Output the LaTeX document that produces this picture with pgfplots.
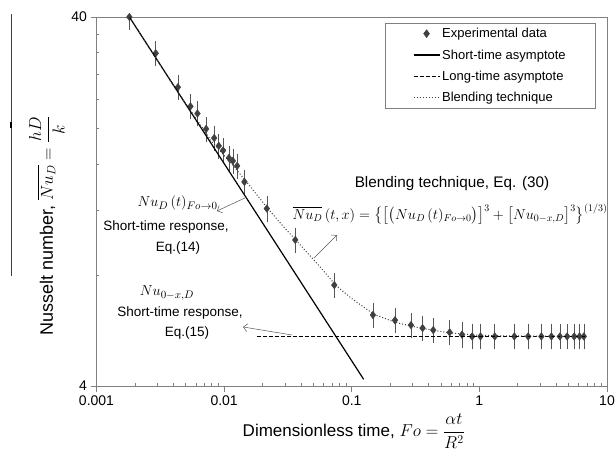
\documentclass[border=0pt]{standalone}
\usepackage{fontspec}
\setmainfont{Liberation Sans}
\usepackage{amsmath}
\usepackage{pgfplots}
\pgfplotsset{compat=1.18}
\usetikzlibrary{arrows.meta}

\definecolor{mk}{HTML}{404040}
\definecolor{ax}{HTML}{808080}
\definecolor{eb}{HTML}{555555}

\begin{document}
\begin{tikzpicture}
\path[use as bounding box] (-96.5pt,-77pt) rectangle (518.5pt,386pt);
\begin{axis}[
    at={(0pt,0pt)}, anchor=south west,
    scale only axis, width=510.5pt, height=369pt,
    xmode=log, ymode=log,
    xmin=0.001, xmax=10, ymin=4, ymax=40,
    clip mode=individual,
    axis line style={ax, line width=0.8pt},
    tick pos=left,
    xtick={0.001,0.01,0.1,1,10}, xticklabels={0.001,0.01,0.1,1,10},
    ytick={4,40}, yticklabels={4,40},
    tick align=outside, major tick length=6pt, minor tick length=0pt,
    every tick/.style={ax, line width=0.6pt},
    extra x ticks={0.002,0.003,0.004,0.005,0.006,0.007,0.008,0.009,
                   0.02,0.03,0.04,0.05,0.06,0.07,0.08,0.09,
                   0.2,0.3,0.4,0.5,0.6,0.7,0.8,0.9,
                   2,3,4,5,6,7,8,9},
    extra x tick style={tick align=inside, major tick length=3pt, xticklabel={}},
    extra y ticks={8,12,16,20,24,28,32,36},
    extra y tick style={tick align=inside, major tick length=3pt, yticklabel={}},
    tick label style={font=\fontsize{14}{16}\selectfont},
    xlabel={Dimensionless time, $Fo=\dfrac{\alpha t}{R^{2}}$},
    xlabel style={at={(rel axis cs:0.504,-0.123)}, anchor=center, font=\fontsize{17}{20}\selectfont},
    ylabel={Nusselt number, $\overline{Nu_{D}}=\dfrac{hD}{k}$},
    ylabel style={at={(rel axis cs:-0.097,0.434)}, anchor=center, font=\fontsize{18}{21}\selectfont},
    legend style={at={(rel axis cs:0.9785,0.984)}, anchor=north east,
        draw=ax, line width=0.6pt, inner xsep=28pt, inner ysep=3pt,
        row sep=6.5pt, font=\fontsize{13}{15}\selectfont},
    legend cell align=left,
    legend image code/.code={\draw[mark repeat=2,mark phase=2,#1] plot coordinates {(0pt,0pt) (13pt,0pt) (26pt,0pt)};},
]
% experimental data
\addplot[mk, only marks, mark=diamond*, mark size=3.8pt, mark options={fill=mk, draw=mk},
    error bars/.cd, y dir=both, y fixed relative=0.06,
    error bar style={eb, line width=0.6pt},
    error mark options={eb, mark size=3pt, line width=0.6pt}]
coordinates {
(0.00181,40.0) (0.00291,31.9) (0.00434,25.8) (0.00545,22.9) (0.00618,21.9)
(0.00723,19.9) (0.00836,18.8) (0.00908,17.9) (0.00982,17.4) (0.0109,16.6)
(0.0117,16.3) (0.01265,15.8) (0.01442,14.3) (0.0216,12.1) (0.0361,9.95)
(0.0730,7.51) (0.1466,6.23) (0.218,6.03) (0.291,5.85) (0.359,5.74)
(0.435,5.67) (0.585,5.59) (0.731,5.51) (0.877,5.45) (1.02,5.45)
(1.32,5.45) (1.88,5.45) (2.41,5.45) (3.06,5.45) (3.67,5.45)
(4.27,5.45) (4.87,5.45) (5.53,5.45) (6.09,5.45) (6.58,5.45)
};
\addlegendentry{Experimental data}
% short-time asymptote
\addplot[black, line width=1.2pt] coordinates {(0.00181,40.0) (0.124,4.17)};
\addlegendentry{Short-time asymptote}
% long-time asymptote
\addplot[black, line width=1.2pt, dash pattern=on 4pt off 2pt] coordinates {(0.018,5.45) (6.67,5.45)};
\addlegendentry{Long-time asymptote}
% blending technique
\addplot[mk, line width=1pt, dotted] coordinates {
(0.00181,40.0) (0.004,26.1) (0.008,18.4) (0.012,15.7) (0.016,13.9)
(0.022,12.1) (0.03,10.7) (0.04,9.6) (0.055,8.5) (0.075,7.5)
(0.1,6.9) (0.15,6.25) (0.22,5.95) (0.3,5.8) (0.45,5.65)
(0.6,5.57) (0.9,5.5) (1.5,5.47) (3,5.46) (6.6,5.45)
};
\addlegendentry{Blending technique}

% annotations
\node[font=\fontsize{15.3}{18}\selectfont, inner sep=1pt] at (rel axis cs:0.6964,0.5480) {Blending technique, Eq. (30)};
\node[font=\fontsize{14.4}{17}\selectfont, inner sep=0pt] at (rel axis cs:0.6925,0.4660)
  {$\overline{Nu_{D}}\,(t,x)=\big\{\big[\big(Nu_{D}\,(t)_{Fo\rightarrow 0}\big)\big]^{3}+\big[Nu_{0-x,D}\big]^{3}\big\}^{(1/3)}$};
\draw[eb, line width=0.5pt, -{Straight Barb[length=4pt]}] (rel axis cs:0.426,0.347) -- (rel axis cs:0.4711,0.4092);

\node[font=\fontsize{15}{18}\selectfont] at (rel axis cs:0.1587,0.4959) {$Nu_{D}\,(t)_{Fo\rightarrow 0}$};
\node[font=\fontsize{13.5}{16}\selectfont] at (rel axis cs:0.1361,0.4309) {Short-time response,};
\node[font=\fontsize{13.5}{16}\selectfont] at (rel axis cs:0.1596,0.374) {Eq.(14)};
\draw[eb, line width=0.5pt, -{Straight Barb[length=4pt]}] (rel axis cs:0.2948,0.5122) -- (rel axis cs:0.236,0.4743);

\node[font=\fontsize{15}{18}\selectfont] at (rel axis cs:0.138,0.252) {$Nu_{0-x,D}$};
\node[font=\fontsize{13.5}{16}\selectfont] at (rel axis cs:0.1636,0.1978) {Short-time response,};
\node[font=\fontsize{13.5}{16}\selectfont] at (rel axis cs:0.1773,0.1436) {Eq.(15)};
\draw[eb, line width=0.5pt, -{Straight Barb[length=4pt]}] (rel axis cs:0.383,0.1382) -- (rel axis cs:0.287,0.16);

% stray line beside the y label
\draw[mk, line width=0.7pt] (rel axis cs:-0.1675,1.008) -- (rel axis cs:-0.1675,0.298);
\draw[black, line width=2pt] (rel axis cs:-0.1675,0.715) -- (rel axis cs:-0.1675,0.700);
\end{axis}
\end{tikzpicture}
\end{document}
